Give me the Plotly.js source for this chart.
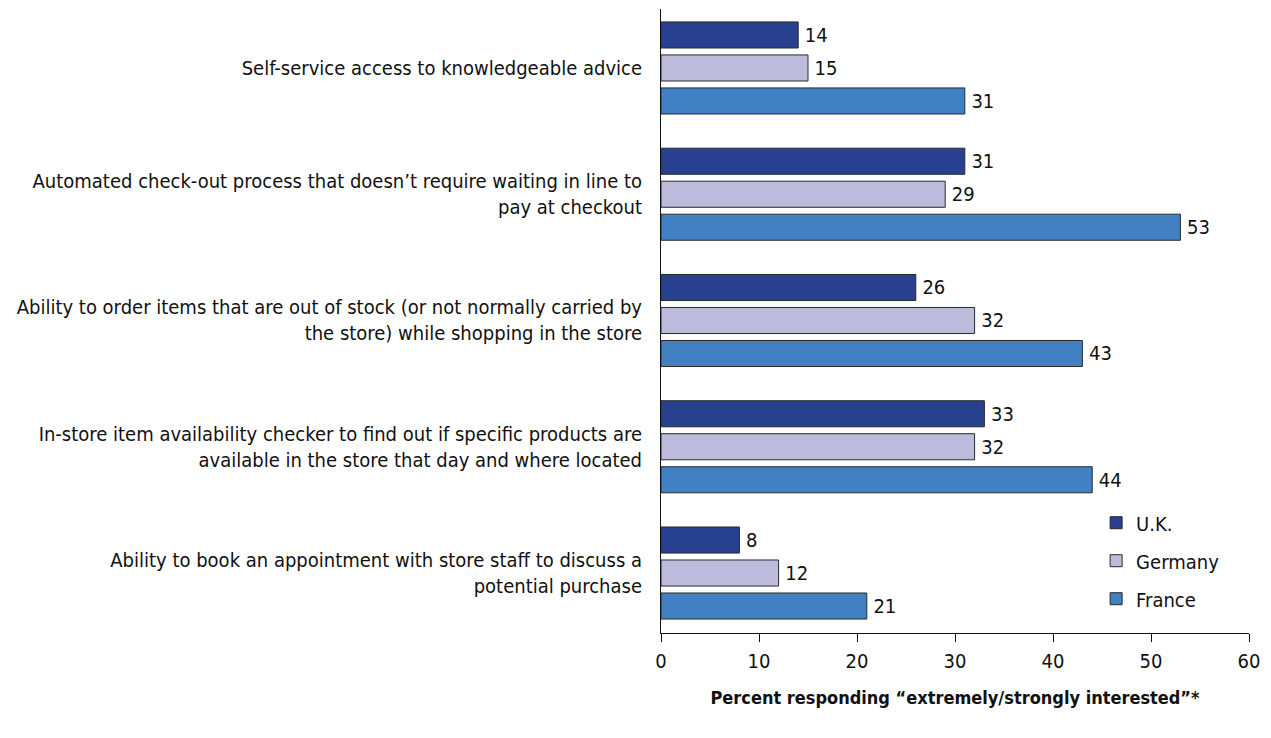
<!DOCTYPE html>
<html>
<head>
<meta charset="utf-8">
<script src="https://cdn.plot.ly/plotly-3.0.1.min.js"></script>
<style>html,body{margin:0;padding:0;background:#fff;}#chart{width:1271px;height:738px;}</style>
</head>
<body>
<div id="chart"></div>
<script>
const categories = [
  "Self-service access to knowledgeable advice",
  "Automated check-out process that doesn’t require waiting in line to<br>pay at checkout",
  "Ability to order items that are out of stock (or not normally carried by<br>the store) while shopping in the store",
  "In-store item availability checker to find out if specific products are<br>available in the store that day and where located",
  "Ability to book an appointment with store staff to discuss a<br>potential purchase"
];
const seriesNames = ["U.K.", "Germany", "France"];
const ukValues = [14, 31, 26, 33, 8];
const germanyValues = [15, 29, 32, 32, 12];
const franceValues = [31, 53, 43, 44, 21];
const xTicks = [0, 10, 20, 30, 40, 50, 60];

const FONT = "'Liberation Sans Narrow', 'DejaVu Sans Condensed', 'Arial Narrow', sans-serif";
const colors = ["#27408f", "#bcbbdb", "#4080c3"];
const values = [ukValues, germanyValues, franceValues];

const traces = seriesNames.map((name, i) => ({
  type: 'bar',
  orientation: 'h',
  name: name,
  legendgroup: name,
  y: categories,
  x: values[i],
  text: values[i].map(v => '\u2009' + v),
  textposition: 'outside',
  cliponaxis: false,
  textfont: {family: FONT, size: 20, color: '#111'},
  marker: {color: colors[i], line: {color: '#2a2a2a', width: 1}},
  hoverinfo: 'x+name'
}));

const layout = {
  width: 1271, height: 738,
  margin: {l: 661, r: 22, t: 9, b: 105},
  paper_bgcolor: '#fff', plot_bgcolor: '#fff',
  font: {family: FONT, size: 20, color: '#111'},
  barmode: 'group',
  bargap: 0.216,
  bargroupgap: 0.21,
  showlegend: true,
  legend: {
    x: 0.74, y: 0.208, xanchor: 'left', yanchor: 'top',
    font: {family: FONT, size: 20, color: '#111'},
    bgcolor: 'rgba(0,0,0,0)',
    traceorder: 'grouped',
    tracegroupgap: 9
  },
  xaxis: {
    range: [0, 60], tickvals: xTicks, ticktext: xTicks.map(String),
    showgrid: false, zeroline: false,
    showline: true, linecolor: '#111', linewidth: 1,
    ticks: 'outside', ticklen: 8, tickcolor: '#111',
    ticklabelstandoff: 2,
    tickfont: {family: FONT, size: 20, color: '#111'},
    title: {text: '<b>Percent responding “extremely/strongly interested”*</b>',
            font: {family: FONT, size: 18, color: '#111'}, standoff: 19}
  },
  yaxis: {
    type: 'category',
    categoryorder: 'array', categoryarray: categories,
    range: [4.475, -0.467],
    showgrid: false, zeroline: false,
    showline: true, linecolor: '#111', linewidth: 1,
    ticks: '', ticklabelstandoff: 14,
    tickfont: {family: FONT, size: 20, color: '#111'}
  }
};

Plotly.newPlot('chart', traces, layout, {displayModeBar: false, staticPlot: true});
</script>
</body>
</html>
